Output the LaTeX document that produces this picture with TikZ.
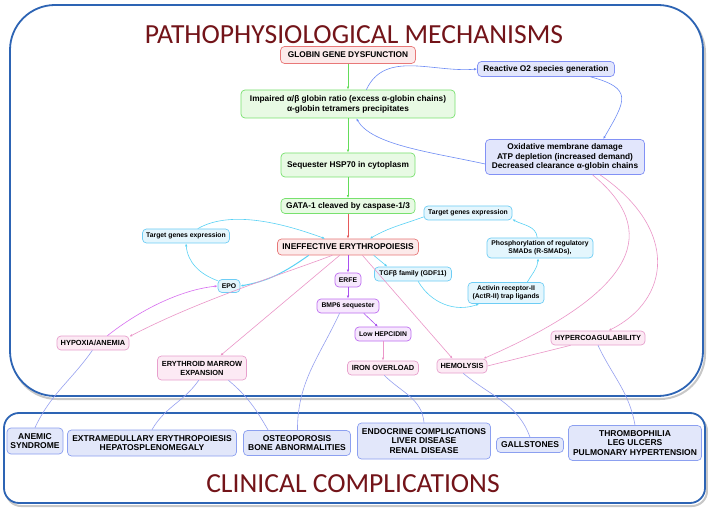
\documentclass[tikz,border=0pt]{standalone}
\usepackage{fontspec}
\setmainfont{Liberation Sans}
\newfontfamily\ttlfont{Carlito}
\usepackage{tikz}
\usetikzlibrary{arrows.meta}

\definecolor{frm}{RGB}{45,100,180}
\definecolor{ttlc}{RGB}{115,20,25}
\definecolor{grnD}{RGB}{120,225,110}
\definecolor{grnL}{RGB}{232,250,228}
\definecolor{redD}{RGB}{232,120,120}
\definecolor{redL}{RGB}{252,234,234}
\definecolor{bluD}{RGB}{130,145,245}
\definecolor{bluL}{RGB}{226,230,252}
\definecolor{cynD}{RGB}{110,205,245}
\definecolor{cynL}{RGB}{228,246,253}
\definecolor{purD}{RGB}{190,110,240}
\definecolor{purL}{RGB}{246,232,253}
\definecolor{pnkD}{RGB}{232,160,205}
\definecolor{pnkL}{RGB}{252,234,244}
\definecolor{cliD}{RGB}{140,160,240}
\definecolor{cliL}{RGB}{226,231,250}
\definecolor{lnG}{RGB}{100,220,90}
\definecolor{lnR}{RGB}{230,90,90}
\definecolor{lnB}{RGB}{110,140,245}
\definecolor{lnC}{RGB}{90,210,245}
\definecolor{lnP}{RGB}{170,80,240}
\definecolor{lnK}{RGB}{235,150,200}
\definecolor{lnM}{RGB}{215,110,240}
\definecolor{lnL}{RGB}{150,160,240}

\begin{document}
\begin{tikzpicture}[x=1pt,y=-1pt,
    bx/.style={draw,rounded corners=4pt,align=center,inner sep=1pt,line width=.7pt},
    sz/.style 2 args={minimum width=#1,minimum height=#2},
    gbox/.style={bx,draw=grnD,fill=grnL,font=\bfseries\fontsize{8.3}{9.8}\selectfont},
    rbox/.style={bx,draw=redD,fill=redL,font=\bfseries\fontsize{8.3}{9.8}\selectfont},
    bbox/.style={bx,draw=bluD,fill=bluL,font=\bfseries\fontsize{8.3}{9.8}\selectfont},
    cbox/.style={bx,draw=cynD,fill=cynL,font=\bfseries\fontsize{6.8}{8}\selectfont},
    pbox/.style={bx,draw=purD,fill=purL,font=\bfseries\fontsize{6.8}{8}\selectfont},
    kbox/.style={bx,draw=pnkD,fill=pnkL,font=\bfseries\fontsize{7.4}{9}\selectfont},
    lbox/.style={bx,draw=cliD,fill=cliL,font=\bfseries\fontsize{8.5}{9.6}\selectfont},
    ttl/.style={font=\ttlfont\fontsize{27.6}{30}\selectfont,text=ttlc,anchor=base,inner sep=0pt},
    ar/.style={-{Latex[length=3pt,width=2.4pt]},line width=.6pt},
    ga/.style={ar,lnG}, ra/.style={ar,lnR}, ba/.style={ar,lnB},
    ca/.style={ar,lnC}, pa/.style={ar,lnP}, ka/.style={ar,lnK}, ma/.style={ar,lnM},
    ln/.style={lnL,line width=.6pt},
    fr/.style={frm,line width=1.8pt}]
    \useasboundingbox (0,0) rectangle (708,510);

    \draw[black!22,line width=2pt,rounded corners=45pt] (12,8) rectangle (705,399);
    \draw[black!22,line width=2pt,rounded corners=15pt] (6,416) rectangle (707,506);
    \draw[fr,fill=white,rounded corners=45pt] (10,5) rectangle (703,396);
    \draw[fr,fill=white,rounded corners=15pt] (4,413) rectangle (705,503);

    \node[ttl] (tm) at (354,44) {PATHOPHYSIOLOGICAL MECHANISMS};
    \node[ttl] (tc) at (353,492) {CLINICAL COMPLICATIONS};

    \node[rbox,sz={135}{17}] (glob) at (348,55) {GLOBIN GENE DYSFUNCTION};
    \node[bbox,sz={137}{15}] (ros) at (546,69) {Reactive O2 species generation};
    \node[gbox,sz={214}{28}] (imp) at (348,104) {Impaired α/β globin ratio (excess α-globin chains)\\α-globin tetramers precipitates};
    \node[bbox,sz={159}{35}] (oxi) at (565,157) {Oxidative membrane damage\\ATP depletion (increased demand)\\Decreased clearance α-globin chains};
    \node[gbox,sz={134}{24}] (hsp) at (348,165) {Sequester HSP70 in cytoplasm};
    \node[gbox,sz={134}{15}] (gata) at (348,206) {GATA-1 cleaved by caspase-1/3};
    \node[rbox,sz={141}{16},font=\bfseries\fontsize{8.4}{10}\selectfont] (ie) at (348,247) {INEFFECTIVE ERYTHROPOIESIS};

    \node[cbox,sz={87}{14}] (tgl) at (186,236) {Target genes expression};
    \node[cbox,sz={88}{14}] (tgr) at (468,213) {Target genes expression};
    \node[cbox,sz={106}{20}] (smad) at (540,248) {Phosphorylation of regulatory\\SMADs (R-SMADs),};
    \node[cbox,sz={76}{21}] (actr) at (506,293) {Activin receptor-II\\(ActR-II) trap ligands};
    \node[cbox,sz={77}{14}] (tgf) at (413,274) {TGFβ family (GDF11)};
    \node[cbox,sz={22}{13}] (epo) at (229,286) {EPO};
    \node[pbox,sz={26}{14}] (erfe) at (348,280) {ERFE};
    \node[pbox,sz={62}{14}] (bmp) at (348,306) {BMP6 sequester};
    \node[pbox,sz={56}{14}] (hep) at (383,334) {Low HEPCIDIN};

    \node[kbox,sz={72}{14}] (hyp) at (93,343) {HYPOXIA/ANEMIA};
    \node[kbox,sz={89}{24}] (ery) at (202,368) {ERYTHROID MARROW\\EXPANSION};
    \node[kbox,sz={71}{14}] (iron) at (383,368) {IRON OVERLOAD};
    \node[kbox,sz={50}{14}] (hem) at (462,366) {HEMOLYSIS};
    \node[kbox,sz={94}{14}] (hco) at (598,338) {HYPERCOAGULABILITY};

    \node[lbox,sz={56}{26}] (ane) at (35,441) {ANEMIC\\SYNDROME};
    \node[lbox,sz={169}{26}] (ext) at (152,443) {EXTRAMEDULLARY ERYTHROPOIESIS\\HEPATOSPLENOMEGALY};
    \node[lbox,sz={107}{25}] (ost) at (297,443) {OSTEOPOROSIS\\BONE ABNORMALITIES};
    \node[lbox,sz={133}{36}] (endo) at (424,441) {ENDOCRINE COMPLICATIONS\\LIVER DISEASE\\RENAL DISEASE};
    \node[lbox,sz={67}{15}] (gall) at (530,445) {GALLSTONES};
    \node[lbox,sz={133}{35}] (thr) at (635,443) {THROMBOPHILIA\\LEG ULCERS\\PULMONARY HYPERTENSION};

    \draw[ga] (glob) -- (imp);
    \draw[ga] (imp) -- (hsp);
    \draw[ga] (hsp) -- (gata);
    \draw[ra] (gata) -- (ie);
    \draw[ba] (imp.38) to[out=65,in=185] (ros.west);
    \draw[ba] (ros.-10) to[out=-15,in=60,looseness=1.8] (oxi.25);
    \draw[ba] (oxi.185) .. controls (430,152) and (372,145) .. (imp.-60);
    \draw[ka] (oxi.-33) .. controls (660,230) and (640,290) .. (hem.19);
    \draw[ka] (oxi.-27) .. controls (680,230) and (670,300) .. (hco.35);
    \draw[lnK,line width=.6pt] (hco.195) -- (hem.east);
    \draw[ka] (ie.-30) -- (hem.142);
    \draw[pa] (ie) -- (erfe);
    \draw[pa] (erfe) -- (bmp);
    \draw[pa] (bmp.-25) -- (hep.125);
    \draw[ka] (hep) -- (iron);
    \draw[ca] (ie.-18) -- (tgf.164);
    \draw[ca] (tgf.-55) to[out=-60,in=200] (actr.202);
    \draw[ca] (actr.27) to[out=60,in=-95] (smad.-100);
    \draw[ca] (smad.105) to[out=95,in=-30] (tgr.-8);
    \draw[ca] (tgr.185) to[out=200,in=30] (ie.21);
    \draw[ca,line width=1pt] (ie.192) to[out=215,in=10] (epo.east);
    \draw[ca] (epo.155) to[out=160,in=-85] (tgl.south);
    \draw[ca] (tgl.32) to[out=30,in=160,looseness=.8] (ie.160);
    \draw[ma] (hyp.27) .. controls (140,310) and (180,290) .. (epo.west);
    \draw[ka] (ie.208) .. controls (280,275) and (200,300) .. (hyp.10);
    \draw[ka] (ie.225) -- (ery.34);

    \draw[ln] (hyp.-95) to[out=-125,in=65] (ane.north);
    \draw[ln] (ery.-105) to[out=-125,in=60] (ext.north);
    \draw[ln] (ery.-25) to[out=-40,in=120] (ost.156);
    \draw[ln] (bmp.221) to[out=-115,in=90] (ost.88);
    \draw[ln] (iron.-80) to[out=-45,in=95] (endo.north);
    \draw[ln] (hem.-80) to[out=-40,in=110] (gall.north);
    \draw[ln] (hco.south) to[out=-65,in=100] (thr.north);
\end{tikzpicture}
\end{document}
